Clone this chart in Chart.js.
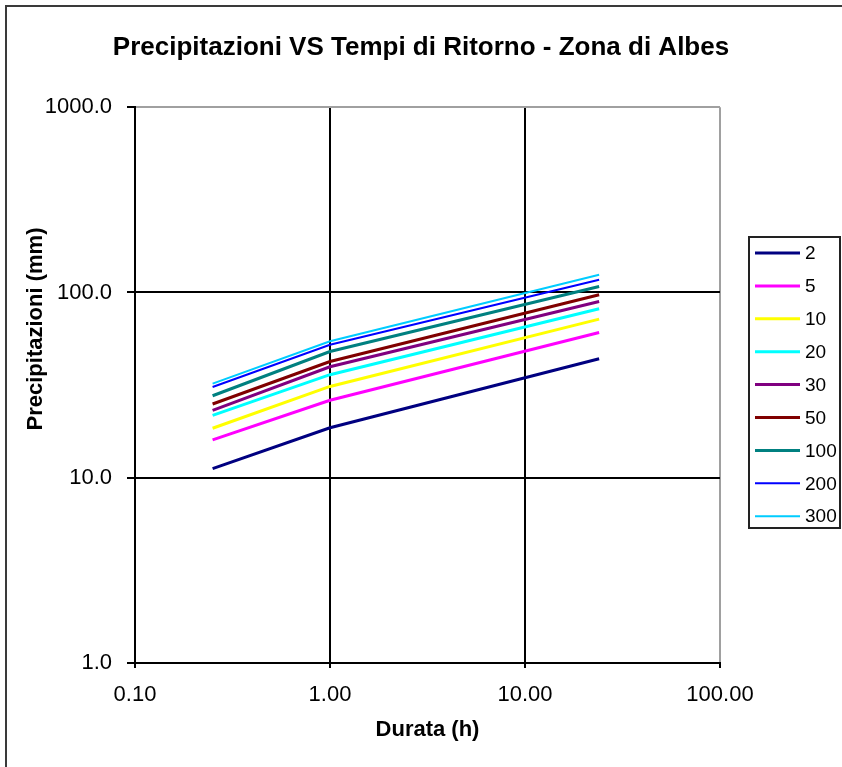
<!DOCTYPE html>
<html>
<head>
<meta charset="utf-8">
<script src="https://cdn.jsdelivr.net/npm/chart.js@4/dist/chart.umd.min.js"></script>
<style>
  html, body { margin: 0; padding: 0; background: #fff; overflow: hidden; }
  #frame { position: absolute; left: 5px; top: 5px; width: 1000px; height: 1000px; border: 2px solid #3a3a3a; box-sizing: border-box; }
  #wrap { position: absolute; left: 0; top: 0; width: 842px; height: 767px; }
</style>
</head>
<body>
<div id="frame"></div>
<div id="wrap"><canvas id="c" width="842" height="767"></canvas></div>
<script>
// ---- data ----
const durations = [0.25, 1, 24];               // Durata (h)
const returnPeriods = ['2', '5', '10', '20', '30', '50', '100', '200', '300'];
const p2   = [11.2, 18.6, 43.9];
const p5   = [16.0, 26.2, 60.8];
const p10  = [18.5, 31.1, 71.8];
const p20  = [21.7, 36.0, 81.7];
const p30  = [23.1, 39.7, 89.4];
const p50  = [25.0, 42.4, 97.2];
const p100 = [27.7, 48.0, 107.7];
const p200 = [30.9, 52.2, 117.2];
const p300 = [32.2, 54.5, 124.7];
const seriesValues = [p2, p5, p10, p20, p30, p50, p100, p200, p300];
const xTickValues = [0.1, 1, 10, 100];
const yTickValues = [1, 10, 100, 1000];

// ---- styles ----
const colors = ['#000080', '#FF00FF', '#FFFF00', '#00FFFF', '#800080', '#800000', '#008080', '#0000FF', '#00CCFF'];
const widths = [3, 3, 3, 3, 3, 3, 3, 2, 2];
const FONT = "'Liberation Sans', Arial, sans-serif";
const NARROW = "'Liberation Sans Narrow', 'Arial Narrow', 'Liberation Sans', sans-serif";

const datasets = returnPeriods.map((name, i) => ({
  label: name,
  data: durations.map((d, j) => ({ x: d, y: seriesValues[i][j] })),
  borderColor: colors[i],
  backgroundColor: colors[i],
  borderWidth: widths[i],
  pointRadius: 0,
  tension: 0,
  fill: false
}));

const customLegend = {
  id: 'customLegend',
  afterDraw(chart) {
    const ctx = chart.ctx;
    ctx.save();
    ctx.strokeStyle = '#222';
    ctx.lineWidth = 2;
    ctx.strokeRect(749, 237, 91, 291);
    ctx.font = '19px ' + FONT;
    ctx.textBaseline = 'middle';
    ctx.textAlign = 'left';
    chart.data.datasets.forEach((ds, i) => {
      const y = 253 + i * 32.9;
      ctx.strokeStyle = ds.borderColor;
      ctx.lineWidth = ds.borderWidth;
      ctx.beginPath();
      ctx.moveTo(755, y);
      ctx.lineTo(800, y);
      ctx.stroke();
      ctx.fillStyle = '#000';
      ctx.fillText(ds.label, 805, y + 1);
    });
    ctx.restore();
  }
};

const yTitle = {
  id: 'yTitle',
  afterDraw(chart) {
    const ctx = chart.ctx;
    ctx.save();
    ctx.translate(36, 329);
    ctx.rotate(-Math.PI / 2);
    ctx.font = 'bold 22px ' + FONT;
    ctx.fillStyle = '#000';
    ctx.textAlign = 'center';
    ctx.textBaseline = 'middle';
    ctx.fillText('Precipitazioni (mm)', 0, 0);
    ctx.restore();
  }
};

new Chart(document.getElementById('c'), {
  type: 'line',
  data: { datasets },
  plugins: [customLegend, yTitle],
  options: {
    responsive: false,
    devicePixelRatio: 1,
    animation: false,
    layout: { padding: 0 },
    plugins: {
      legend: { display: false },
      tooltip: { enabled: false },
      title: {
        display: true,
        text: 'Precipitazioni VS Tempi di Ritorno - Zona di Albes',
        color: '#000',
        font: { family: NARROW, size: 26, weight: 'bold', lineHeight: 1.2 },
        padding: { top: 32, bottom: 44 }
      }
    },
    scales: {
      x: {
        type: 'logarithmic',
        position: 'bottom',
        min: 0.1,
        max: 100,
        afterBuildTicks: s => { s.ticks = xTickValues.map(v => ({ value: v, major: true })); },
        afterFit: s => { s.height = 104; },
        ticks: {
          callback: v => Number(v).toFixed(2),
          color: '#000',
          font: { family: FONT, size: 22 },
          padding: 14,
          maxRotation: 0,
          autoSkip: false
        },
        grid: {
          color: c => (c.tick && c.tick.value === 100) ? '#a0a0a0' : '#000',
          lineWidth: 2,
          tickLength: 5,
          tickColor: '#000'
        },
        border: { color: '#000', width: 2 },
        title: {
          display: true,
          text: 'Durata (h)',
          color: '#000',
          font: { family: FONT, size: 22, weight: 'bold', lineHeight: 1.2 },
          padding: { top: 0, bottom: 24 }
        }
      },
      y: {
        type: 'logarithmic',
        position: 'left',
        min: 1,
        max: 1000,
        afterBuildTicks: s => { s.ticks = yTickValues.map(v => ({ value: v, major: true })); },
        afterFit: s => { s.width = 135; },
        ticks: {
          callback: v => Number(v).toFixed(1),
          color: '#000',
          font: { family: FONT, size: 22 },
          padding: 15,
          autoSkip: false
        },
        grid: {
          color: c => (c.tick && c.tick.value === 1000) ? '#a0a0a0' : '#000',
          lineWidth: 2,
          tickLength: 8,
          tickColor: '#000'
        },
        border: { color: '#000', width: 2 }
      },
      yRight: {
        type: 'linear',
        position: 'right',
        display: true,
        ticks: { display: false },
        grid: { display: false, drawTicks: false },
        border: { display: false },
        afterFit: s => { s.width = 122; }
      }
    }
  }
});
</script>
</body>
</html>
